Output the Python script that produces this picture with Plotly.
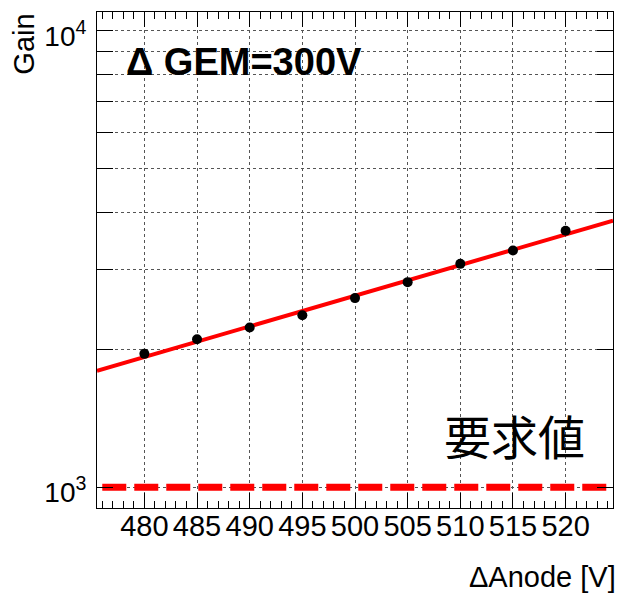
import numpy as np
import plotly.graph_objects as go

# Measured gain vs. anode voltage (GEM voltage fixed at 300 V)
anode_voltage = [480, 485, 490, 495, 500, 505, 510, 515, 520]
gain = [1960, 2110, 2238, 2382, 2596, 2814, 3086, 3300, 3645]

# Required gain and the span over which the requirement line is drawn
required_gain = 1000
required_span = [476, 524]

x_range = [475.5, 524.5]
y_range_log = [2.9546, 4.041]

x_ticks = [480, 485, 490, 495, 500, 505, 510, 515, 520]
y_ticks = [1000, 2000, 3000, 4000, 5000, 6000, 7000, 8000, 9000, 10000]
y_ticktext = ["10<sup>3</sup>", "", "", "", "", "", "", "", "", "10<sup>4</sup>"]

FONT = "Liberation Sans, Arial, sans-serif"

# Exponential fit: log10(gain) linear in anode voltage
slope, intercept = np.polyfit(anode_voltage, np.log10(gain), 1)
x_fit = np.linspace(x_range[0], x_range[1], 50)
y_fit = 10 ** (intercept + slope * x_fit)

fig = go.Figure()

fig.add_trace(go.Scatter(
    x=required_span, y=[required_gain, required_gain], mode="lines",
    line=dict(color="#ff0000", width=7, dash="24px,8px"),
    showlegend=False, hoverinfo="skip",
))

fig.add_trace(go.Scatter(
    x=x_fit, y=y_fit, mode="lines",
    line=dict(color="#ff0000", width=4),
    showlegend=False, hoverinfo="skip",
))

fig.add_trace(go.Scatter(
    x=anode_voltage, y=gain, mode="markers",
    marker=dict(color="black", size=10),
    showlegend=False,
))

fig.update_xaxes(
    range=x_range, showline=True, linecolor="black", linewidth=1, mirror="ticks",
    tickvals=x_ticks, ticks="inside", ticklen=15, tickcolor="black", tickwidth=1,
    minor=dict(dtick=1, tick0=475, ticks="inside", ticklen=7, tickcolor="black", showgrid=False),
    showgrid=True, gridcolor="#555", griddash="dot", gridwidth=1,
    tickfont=dict(family=FONT, size=29, color="black"), ticklabelstandoff=-8,
    zeroline=False,
)

fig.update_yaxes(
    type="log", range=y_range_log, showline=True, linecolor="black", linewidth=1, mirror="ticks",
    tickvals=y_ticks, ticktext=y_ticktext, ticks="inside", ticklen=16, tickcolor="black", tickwidth=1,
    showgrid=True, gridcolor="#555", griddash="dot", gridwidth=1,
    tickfont=dict(family=FONT, size=28, color="black"), ticklabelstandoff=4, ticklabelshift=5,
    zeroline=False,
)

fig.add_annotation(
    text="<b>Δ GEM=300V</b>", xref="paper", yref="paper", x=0.052, y=0.9,
    xanchor="left", yanchor="middle", showarrow=False,
    font=dict(family=FONT, size=38, color="black"),
)
fig.add_annotation(
    text="要求値", xref="paper", yref="paper", x=0.95, y=0.148,
    xanchor="right", yanchor="middle", showarrow=False,
    font=dict(family="Noto Sans CJK JP", size=47, color="black"),
)
fig.add_annotation(
    text="ΔAnode [V]", xref="paper", yref="paper", x=1.0, y=-0.139,
    xanchor="right", yanchor="middle", showarrow=False, xshift=5,
    font=dict(family=FONT, size=29, color="black"),
)
fig.add_annotation(
    text="Gain", xref="paper", yref="paper", x=-0.178, y=1.0,
    xanchor="left", yanchor="top", textangle=-90, showarrow=False,
    font=dict(family=FONT, size=29, color="black"),
)

fig.update_layout(
    width=617, height=593,
    margin=dict(l=97, r=4, t=12, b=85),
    paper_bgcolor="white", plot_bgcolor="white",
    showlegend=False,
)

fig.write_html("out.html")
